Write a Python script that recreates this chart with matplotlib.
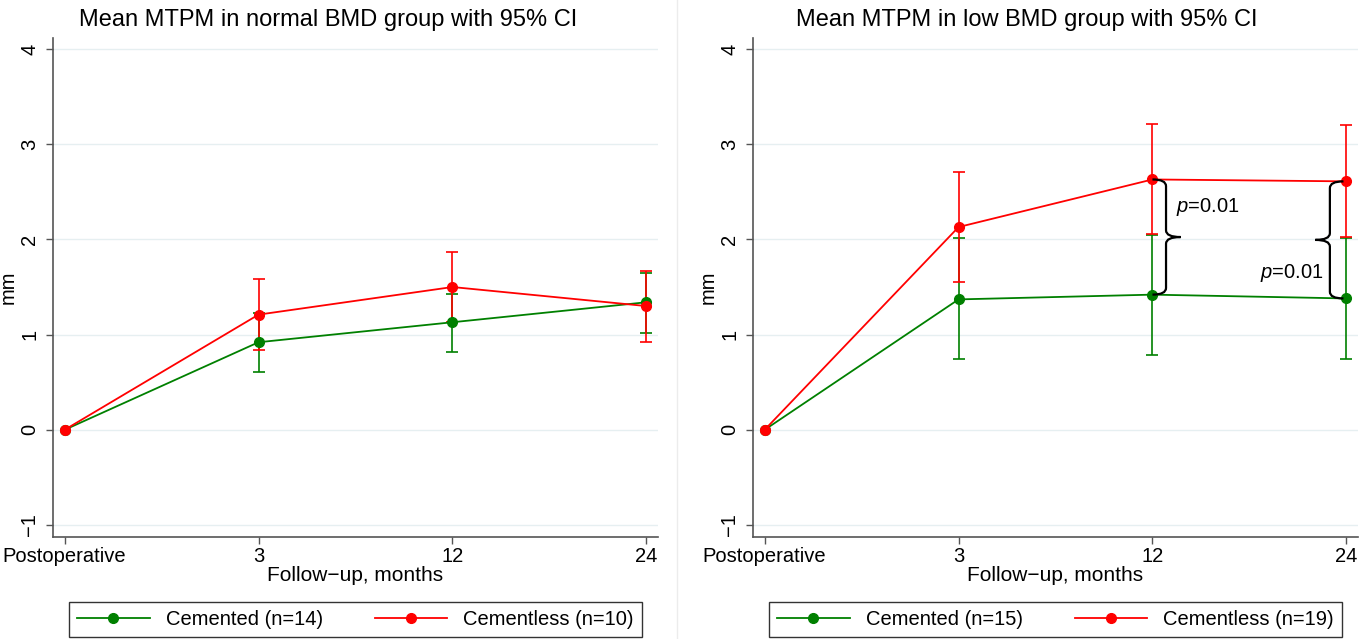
import matplotlib
matplotlib.use("Agg")
from matplotlib import pyplot as plt
from matplotlib.path import Path
from matplotlib.patches import PathPatch
from matplotlib.lines import Line2D

plt.rcParams['font.family'] = ['Liberation Sans', 'DejaVu Sans']
plt.rcParams['mathtext.fontset'] = 'custom'
plt.rcParams['mathtext.it'] = 'Liberation Sans:italic'
plt.rcParams['mathtext.rm'] = 'Liberation Sans'

timepoints = ["Postoperative", "3", "12", "24"]

# normal BMD group: mean MTPM (mm) with 95% CI
normal_cem_mean = [0, 0.92, 1.13, 1.34]
normal_cem_lo = [0, 0.61, 0.82, 1.02]
normal_cem_hi = [0, 1.23, 1.43, 1.65]
normal_cl_mean = [0, 1.21, 1.50, 1.30]
normal_cl_lo = [0, 0.84, 1.13, 0.92]
normal_cl_hi = [0, 1.58, 1.87, 1.67]

# low BMD group
low_cem_mean = [0, 1.37, 1.42, 1.38]
low_cem_lo = [0, 0.74, 0.79, 0.74]
low_cem_hi = [0, 2.01, 2.05, 2.02]
low_cl_mean = [0, 2.13, 2.63, 2.61]
low_cl_lo = [0, 1.55, 2.06, 2.03]
low_cl_hi = [0, 2.71, 3.21, 3.20]

n_normal = (14, 10)
n_low = (15, 19)

GREEN = "#008000"
RED = "#ff0000"
AXCOL = "#555555"
FS = 14.5

W, H = 1361, 639
fig = plt.figure(figsize=(W / 100, H / 100), dpi=100)


def px_axes(x0, x1, y0, y1):
    return fig.add_axes([x0 / W, 1 - y1 / H, (x1 - x0) / W, (y1 - y0) / H])


def draw_series(ax, mean, lo, hi, color):
    x = list(range(len(mean)))
    ax.plot(x, mean, color=color, lw=1.3, marker="o", ms=7, zorder=3)
    # no CI at baseline
    xs = x[1:]
    m = mean[1:]
    err = [[a - b for a, b in zip(m, lo[1:])], [c - a for a, c in zip(m, hi[1:])]]
    ax.errorbar(xs, m, yerr=err, fmt="none", ecolor=color, elinewidth=1.2,
                capsize=4.5, capthick=1.2, zorder=2)


def brace(ax, xv, ytop, ybot, d, hw=0.07, tw=0.075, r=0.07):
    # curly brace: vertical stroke at xv, hooks toward -d, tip toward +d
    ym = (ytop + ybot) / 2
    xh = xv - d * hw
    xt = xv + d * tw
    verts = [(xh, ytop), (xv, ytop), (xv, ytop - r),
             (xv, ym + r),
             (xv, ym), (xt, ym),
             (xv, ym), (xv, ym - r),
             (xv, ybot + r),
             (xv, ybot), (xh, ybot)]
    codes = [Path.MOVETO, Path.CURVE3, Path.CURVE3,
             Path.LINETO,
             Path.CURVE3, Path.CURVE3,
             Path.CURVE3, Path.CURVE3,
             Path.LINETO,
             Path.CURVE3, Path.CURVE3]
    ax.add_patch(PathPatch(Path(verts, codes), fill=False, lw=1.6,
                           edgecolor="black", zorder=5, clip_on=False))


def panel(ax, cem, cl, n, title, title_x):
    for yv in range(-1, 5):
        ax.axhline(yv, color="#e6eff1", lw=1, zorder=0)
    draw_series(ax, *cem, GREEN)
    draw_series(ax, *cl, RED)
    ax.set_xlim(-0.06, 3.06)
    ax.set_ylim(-1.126, 4.116)
    ax.set_xticks(range(len(timepoints)))
    ax.set_xticklabels(timepoints, fontsize=FS)
    ax.set_yticks(range(-1, 5))
    ax.set_yticklabels([str(v).replace("-", "\u2212") for v in range(-1, 5)],
                       fontsize=FS, rotation=90, va="center")
    for s in ("top", "right"):
        ax.spines[s].set_visible(False)
    for s in ("left", "bottom"):
        ax.spines[s].set_color(AXCOL)
        ax.spines[s].set_linewidth(1.2)
    ax.tick_params(axis="y", length=5, width=1, color=AXCOL, pad=5)
    ax.tick_params(axis="x", length=5, width=1, color=AXCOL, pad=2)
    ax.set_xlabel("Follow\u2212up, months", fontsize=FS + 0.5, labelpad=0)
    ax.set_ylabel("mm", fontsize=FS)
    ax.yaxis.set_label_coords(-35 / 605, 0.5)
    fig.text(title_x / W, 1 - 20 / H, title, fontsize=17,
             ha="center", va="center")

    handles = [Line2D([], [], color=GREEN, lw=1.3, marker="o", ms=7),
               Line2D([], [], color=RED, lw=1.3, marker="o", ms=7)]
    labels = [f"Cemented (n={n[0]})", f"Cementless (n={n[1]})"]
    bb = ax.get_position()
    lx0 = bb.x0 + 16 / W
    lw_ = bb.width - 32 / W
    leg = ax.legend(handles, labels, ncol=2, mode="expand",
                    loc="lower left",
                    bbox_to_anchor=(lx0, 2 / H, lw_, 38 / H),
                    bbox_transform=fig.transFigure,
                    fontsize=FS, handlelength=3.6, handletextpad=0.8,
                    frameon=True, fancybox=False, borderaxespad=0,
                    borderpad=0.4, columnspacing=2.0)
    leg.get_frame().set_edgecolor("black")
    leg.get_frame().set_linewidth(1.0)


ax1 = px_axes(53, 658, 38, 537)
ax2 = px_axes(753, 1358, 38, 537)

panel(ax1, (normal_cem_mean, normal_cem_lo, normal_cem_hi),
      (normal_cl_mean, normal_cl_lo, normal_cl_hi), n_normal,
      "Mean MTPM in normal BMD group with 95% CI", 328)
panel(ax2, (low_cem_mean, low_cem_lo, low_cem_hi),
      (low_cl_mean, low_cl_lo, low_cl_hi), n_low,
      "Mean MTPM in low BMD group with 95% CI", 1027)

# significance braces between groups at 12 and 24 months
brace(ax2, 2.07, low_cl_mean[2], low_cem_mean[2], +1)
brace(ax2, 2.915, low_cl_mean[3], low_cem_mean[3], -1)
ax2.text(2.12, 2.34, "$p$=0.01", fontsize=FS, ha="left", va="center")
ax2.text(2.88, 1.65, "$p$=0.01", fontsize=FS, ha="right", va="center")

# faint divider between the two panels
fig.add_artist(Line2D([677 / W, 677 / W], [0, 1], color="#ececec", lw=1))

fig.savefig("out.png", dpi=100)
